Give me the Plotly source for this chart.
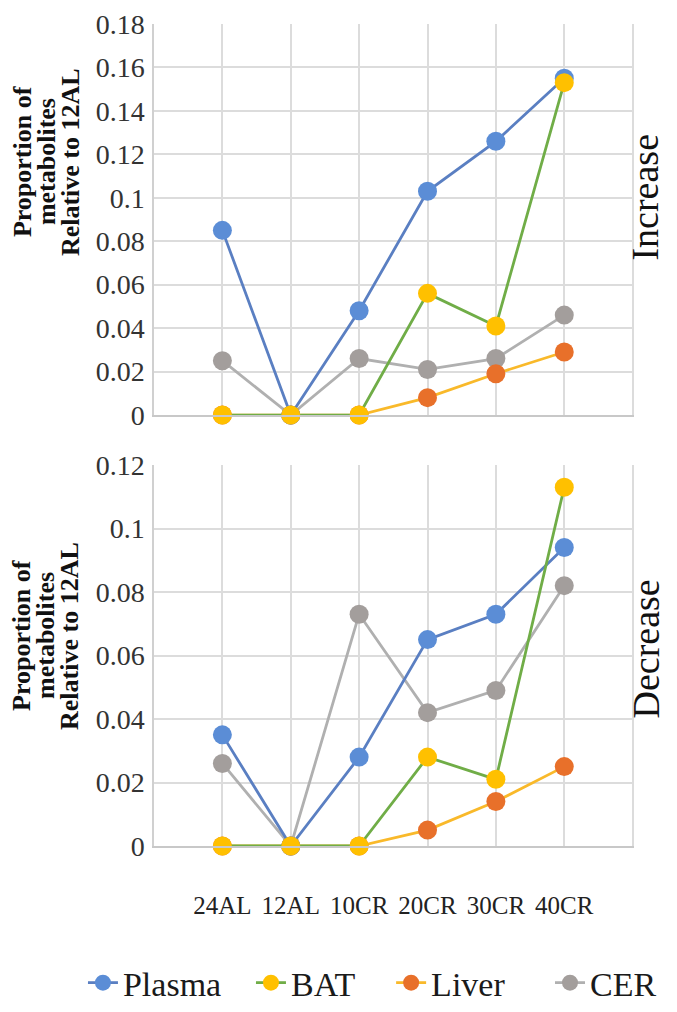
import plotly.graph_objects as go

# ---------------- data ----------------
categories = ["24AL", "12AL", "10CR", "20CR", "30CR", "40CR"]

inc_plasma = [0.085, 0.0, 0.048, 0.103, 0.126, 0.155]
inc_bat = [0.0, 0.0, 0.0, 0.056, 0.041, 0.153]
inc_liver = [0.0, 0.0, 0.0, 0.008, 0.019, 0.029]
inc_cer = [0.025, 0.0, 0.026, 0.021, 0.026, 0.046]

dec_plasma = [0.035, 0.0, 0.028, 0.065, 0.073, 0.094]
dec_bat = [0.0, 0.0, 0.0, 0.028, 0.021, 0.113]
dec_liver = [0.0, 0.0, 0.0, 0.005, 0.014, 0.025]
dec_cer = [0.026, 0.0, 0.073, 0.042, 0.049, 0.082]

inc_ticks = [0, 0.02, 0.04, 0.06, 0.08, 0.1, 0.12, 0.14, 0.16, 0.18]
inc_ticktext = ["0", "0.02", "0.04", "0.06", "0.08", "0.1", "0.12", "0.14", "0.16", "0.18"]
dec_ticks = [0, 0.02, 0.04, 0.06, 0.08, 0.1, 0.12]
dec_ticktext = ["0", "0.02", "0.04", "0.06", "0.08", "0.1", "0.12"]

series_names = ["Plasma", "BAT", "Liver", "CER"]
y_title_lines = ["Proportion of", "metabolites", "Relative to 12AL"]
panel_labels = ["Increase", "Decrease"]

# ---------------- styles ----------------
styles = {
    "Plasma": dict(line="#5A7FC2", marker="#5B8DD6", legend="legend", lx=-0.148),
    "BAT": dict(line="#70AD47", marker="#FFC000", legend="legend2", lx=0.202),
    "Liver": dict(line="#F9B92A", marker="#E8702A", legend="legend3", lx=0.494),
    "CER": dict(line="#B0B0B0", marker="#A39E9C", legend="legend4", lx=0.825),
}
draw_order = ["CER", "Liver", "Plasma", "BAT"]

SERIF = "Liberation Serif"

x_pos = list(range(len(categories)))

panels = [
    dict(data={"Plasma": inc_plasma, "BAT": inc_bat, "Liver": inc_liver, "CER": inc_cer},
         xa="x", ya="y", show=True),
    dict(data={"Plasma": dec_plasma, "BAT": dec_bat, "Liver": dec_liver, "CER": dec_cer},
         xa="x2", ya="y2", show=False),
]

fig = go.Figure()
for p in panels:
    for name in draw_order:
        st = styles[name]
        fig.add_trace(go.Scatter(
            x=x_pos, y=p["data"][name], name=name, mode="lines+markers",
            xaxis=p["xa"], yaxis=p["ya"],
            line=dict(color=st["line"], width=2.8),
            marker=dict(color=st["marker"], size=19, line=dict(width=0)),
            cliponaxis=False, showlegend=p["show"], legend=st["legend"],
        ))

grid_col = "#DCDCDC"
tickvals_x = x_pos + [len(categories)]
ticktext_x = categories + [""]

common_x = dict(range=[-1, len(categories) + 0.02], tickvals=tickvals_x,
                showgrid=True, gridcolor=grid_col, gridwidth=1.5,
                showline=True, linecolor="#C8C8C8", linewidth=1.5,
                zeroline=False, ticks="", automargin=False, ticklabeloverflow="allow")
common_y = dict(showgrid=True, gridcolor=grid_col, gridwidth=1.5, zeroline=False,
                showline=True, linecolor="#D0D0D0", linewidth=1.5, ticks="",
                ticklabelstandoff=2, automargin=False, ticklabeloverflow="allow",
                tickfont=dict(family=SERIF, size=28, color="#333333"))

legend_common = dict(orientation="h", xanchor="left", y=-0.1667, yanchor="middle",
                     font=dict(family=SERIF, size=34, color="#1a1a1a"),
                     itemsizing="trace", bgcolor="rgba(0,0,0,0)")
legend_layout = {}
for name in series_names:
    st = styles[name]
    legend_layout[st["legend"]] = dict(**legend_common, x=st["lx"])

fig.update_layout(
    font=dict(family=SERIF),
    xaxis=dict(**common_x, ticktext=ticktext_x, showticklabels=False, anchor="y"),
    xaxis2=dict(**common_x, ticktext=ticktext_x, showticklabels=True, anchor="y2",
                tickfont=dict(family=SERIF, size=25, color="#222222"),
                ticklabelstandoff=36),
    yaxis=dict(**common_y, domain=[0.5243, 1.0], range=[0, 0.18], tickvals=inc_ticks,
               ticktext=inc_ticktext, anchor="x"),
    yaxis2=dict(**common_y, domain=[0.0, 0.4635], range=[0, 0.12], tickvals=dec_ticks,
                ticktext=dec_ticktext, anchor="x2"),
    width=669, height=1004,
    margin=dict(l=146, r=43, t=16, b=166, autoexpand=False),
    paper_bgcolor="white", plot_bgcolor="white",
    showlegend=True,
    **legend_layout,
)

# axis titles (one annotation per line, rotated) and panel labels
title_line_x_px = [22, 46, 70]
for yc in [0.832, 0.2555]:
    for line_txt, xpx in zip(y_title_lines, title_line_x_px):
        fig.add_annotation(text="<b>" + line_txt + "</b>", xref="paper", yref="paper",
                           x=(xpx - 154) / 480, y=yc, textangle=-90, showarrow=False,
                           xanchor="center", yanchor="middle",
                           font=dict(family=SERIF, size=26, color="#111111"))
for lab, yc in zip(panel_labels, [0.7895, 0.2397]):
    fig.add_annotation(text=lab, xref="paper", yref="paper", x=1.024, y=yc,
                       textangle=-90, showarrow=False, xanchor="center", yanchor="middle",
                       font=dict(family=SERIF, size=38, color="#111111"))

fig.write_html("out.html")
